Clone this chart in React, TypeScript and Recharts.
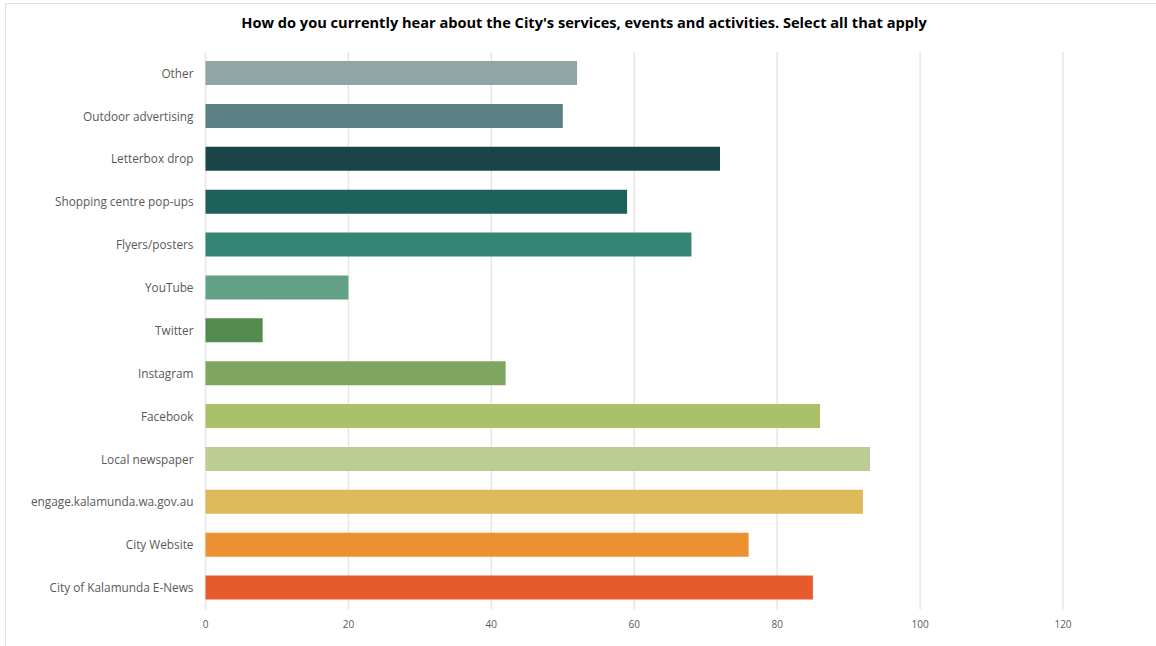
import React from "react";
import { BarChart, Bar, XAxis, YAxis, CartesianGrid, Cell } from "recharts";

const categories = [
  "Other",
  "Outdoor advertising",
  "Letterbox drop",
  "Shopping centre pop-ups",
  "Flyers/posters",
  "YouTube",
  "Twitter",
  "Instagram",
  "Facebook",
  "Local newspaper",
  "engage.kalamunda.wa.gov.au",
  "City Website",
  "City of Kalamunda E-News",
];

const responses = [52, 50, 72, 59, 68, 20, 8, 42, 86, 93, 92, 76, 85];

const barColors = [
  "#8FA6A7",
  "#5C7E85",
  "#1A4446",
  "#1D5F59",
  "#348573",
  "#63A187",
  "#558A4E",
  "#7EA660",
  "#AAC06A",
  "#BCCD94",
  "#DDB95A",
  "#EC912F",
  "#E65A2D",
];

const xTicks = [0, 20, 40, 60, 80, 100, 120];

const title =
  "How do you currently hear about the City's services, events and activities. Select all that apply";

const data = categories.map((name, i) => ({ name, value: responses[i] }));

export default function App() {
  return (
    <div
      style={{
        position: "fixed",
        left: 0,
        top: 0,
        width: 1156,
        height: 646,
        background: "#fff",
        fontFamily: "'Open Sans', sans-serif",
        overflow: "hidden",
      }}
    >
      <div
        style={{
          position: "absolute",
          left: 5,
          top: 3,
          width: 1160,
          height: 660,
          border: "1px solid #e0e0e0",
          boxSizing: "border-box",
        }}
      />
      <div
        style={{
          position: "absolute",
          top: 12,
          left: 0,
          width: 1168,
          textAlign: "center",
          fontWeight: 700,
          fontSize: 14.6,
          color: "#000",
        }}
      >
        {title}
      </div>
      <div style={{ position: "absolute", left: 0, top: 0 }}>
        <BarChart
          width={1156}
          height={646}
          data={data}
          layout="vertical"
          margin={{ top: 52, right: 93, bottom: 0, left: 0 }}
          barCategoryGap={19}
        >
          <CartesianGrid
            horizontal={false}
            stroke="#e6e6e6"
            strokeWidth={1.5}
          />
          <XAxis
            type="number"
            domain={[0, 120]}
            ticks={xTicks}
            height={36.5}
            axisLine={false}
            tickLine={false}
            tickSize={0}
            tickMargin={11}
            tick={{ fontSize: 10, fill: "#595959", fontFamily: "'Open Sans', sans-serif" }}
          />
          <YAxis
            type="category"
            dataKey="name"
            width={205.5}
            axisLine={false}
            tickLine={false}
            tickSize={0}
            tickMargin={12}
            tick={{ fontSize: 11.8, fill: "#595959", fontFamily: "'Open Sans', sans-serif" }}
          />
          <Bar dataKey="value" barSize={24} isAnimationActive={false}>
            {data.map((d, i) => (
              <Cell key={d.name} fill={barColors[i]} />
            ))}
          </Bar>
        </BarChart>
      </div>
    </div>
  );
}
